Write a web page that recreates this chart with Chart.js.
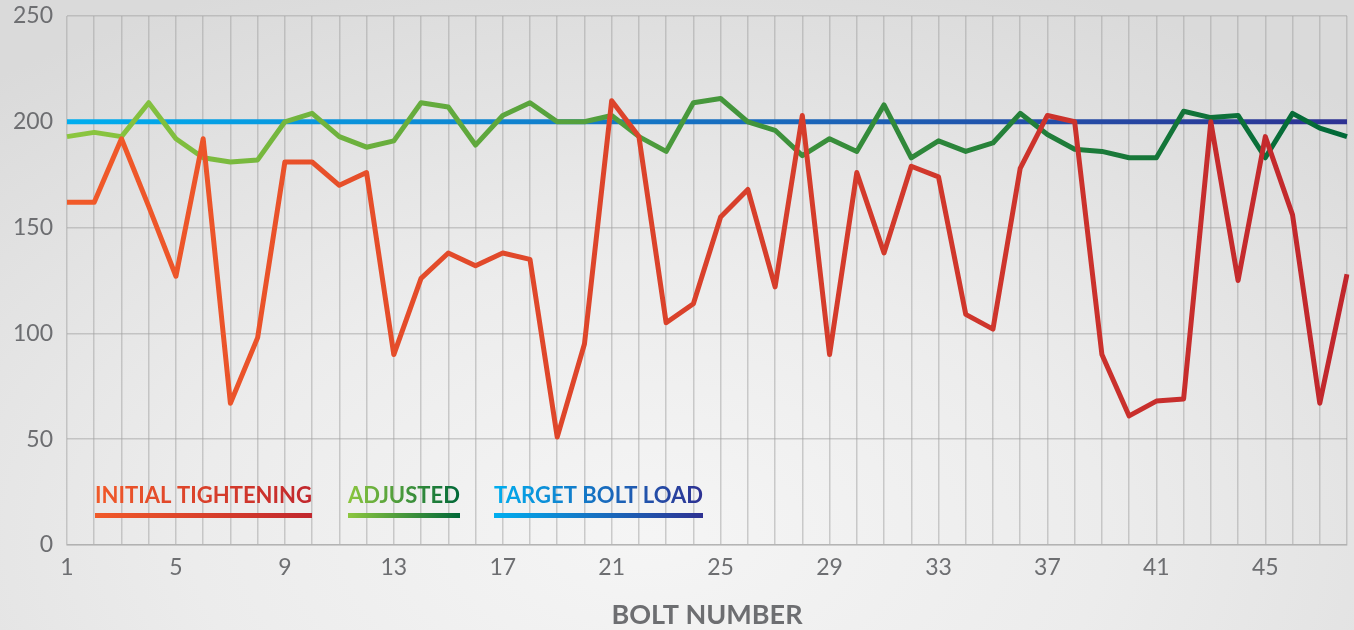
<!DOCTYPE html>
<html>
<head>
<meta charset="utf-8">
<script src="https://cdn.jsdelivr.net/npm/chart.js@4"></script>
<style>
  html, body { margin: 0; padding: 0; }
  body {
    width: 1354px; height: 630px; overflow: hidden;
    background: radial-gradient(ellipse 75% 95% at 48% 85%, #f5f5f5 0%, #ececec 45%, #dadada 100%);
  }
  #wrap { position: relative; width: 1354px; height: 630px; }
</style>
</head>
<body>
<div id="wrap"><canvas id="boltChart"></canvas></div>
<script>
// Bolt numbers
const bolts = [1,2,3,4,5,6,7,8,9,10,11,12,13,14,15,16,17,18,19,20,21,22,23,24,
  25,26,27,28,29,30,31,32,33,34,35,36,37,38,39,40,41,42,43,44,45,46,47,48];

// Load after first pass
const initialTightening = [162,162,192,160,127,192,67,98,181,181,170,176,90,126,138,132,
  138,135,51,95,210,193,105,114,155,168,122,203,90,176,138,179,
  174,109,102,178,203,200,90,61,68,69,200,125,193,156,67,128];

// Load after adjustment
const adjusted = [193,195,193,209,192,183,181,182,200,204,193,188,191,209,207,189,
  203,209,200,200,203,193,186,209,211,200,196,184,192,186,208,183,
  191,186,190,204,194,187,186,183,183,205,202,203,183,204,197,193];

// Target bolt load
const targetLoad = [200,200,200,200,200,200,200,200,200,200,200,200,200,200,200,200,
  200,200,200,200,200,200,200,200,200,200,200,200,200,200,200,200,
  200,200,200,200,200,200,200,200,200,200,200,200,200,200,200,200];

const yTicks = [0, 50, 100, 150, 200, 250];

const colors = {
  initial: ["#f15a29", "#c1272d"],
  adjusted: ["#8cc63f", "#006838"],
  target: ["#00aeef", "#2e3192"],
  text: "#6d6e71",
  grid: "rgba(160,160,160,0.5)"
};

function lineGradient(ctx, pair) {
  const chart = ctx.chart;
  const area = chart.chartArea;
  if (!area) return pair[0];
  const g = chart.ctx.createLinearGradient(area.left, 0, area.right, 0);
  g.addColorStop(0, pair[0]);
  g.addColorStop(1, pair[1]);
  return g;
}

// legend drawn inside the plot, text + bar both gradient
const legendItems = [
  { text: "INITIAL TIGHTENING", from: 28, to: 245, pair: colors.initial },
  { text: "ADJUSTED", from: 281, to: 393, pair: colors.adjusted },
  { text: "TARGET BOLT LOAD", from: 427, to: 636, pair: colors.target }
];

const insideLegend = {
  id: "insideLegend",
  afterDraw(chart) {
    const ctx = chart.ctx;
    const left = chart.chartArea.left;
    const textY = 503, barY = 515.5;
    ctx.save();
    legendItems.forEach(it => {
      const x1 = left + it.from, x2 = left + it.to;
      const g = ctx.createLinearGradient(x1, 0, x2, 0);
      g.addColorStop(0, it.pair[0]);
      g.addColorStop(1, it.pair[1]);
      ctx.font = "bold 22px Lato";
      ctx.letterSpacing = "0px";
      const w = ctx.measureText(it.text).width;
      const sp = (x2 - x1 - w) / (it.text.length - 1);
      ctx.letterSpacing = sp.toFixed(2) + "px";
      ctx.fillStyle = g;
      ctx.textAlign = "left";
      ctx.textBaseline = "alphabetic";
      ctx.fillText(it.text, x1, textY);
      ctx.fillRect(x1, barY - 2.5, x2 - x1, 5);
    });
    ctx.restore();
  }
};

const ctx = document.getElementById("boltChart").getContext("2d");
new Chart(ctx, {
  type: "line",
  data: {
    labels: bolts,
    datasets: [
      {
        label: "Initial tightening",
        data: initialTightening,
        borderColor: c => lineGradient(c, colors.initial),
        borderWidth: 5,
        borderJoinStyle: "round",
        pointRadius: 0,
        tension: 0,
        order: 1
      },
      {
        label: "Adjusted",
        data: adjusted,
        borderColor: c => lineGradient(c, colors.adjusted),
        borderWidth: 5,
        borderJoinStyle: "round",
        pointRadius: 0,
        tension: 0,
        order: 2
      },
      {
        label: "Target bolt load",
        data: targetLoad,
        borderColor: c => lineGradient(c, colors.target),
        borderWidth: 5,
        pointRadius: 0,
        tension: 0,
        order: 3
      }
    ]
  },
  options: {
    responsive: true,
    maintainAspectRatio: false,
    animation: false,
    layout: { padding: { top: 16, right: 7, left: 0, bottom: 0 } },
    plugins: {
      legend: { display: false },
      tooltip: { enabled: false }
    },
    scales: {
      x: {
        grid: { color: colors.grid, lineWidth: 1.5, drawTicks: false },
        border: { color: colors.grid, width: 1.5 },
        ticks: {
          color: colors.text,
          font: { family: "Lato", size: 23 },
          padding: 9,
          autoSkip: false,
          maxRotation: 0,
          callback: (v, i) => (i % 4 === 0 ? String(bolts[i]) : "")
        },
        title: {
          display: true,
          text: "BOLT NUMBER",
          color: colors.text,
          font: { family: "Lato", size: 27, weight: "bold", lineHeight: 1 },
          padding: { top: 0, bottom: 1 }
        },
        afterFit: s => { s.height = 85; s.paddingLeft = 0; s.paddingRight = 0; }
      },
      y: {
        min: 0,
        max: 250,
        afterBuildTicks: s => { s.ticks = yTicks.map(v => ({ value: v })); },
        grid: { color: colors.grid, lineWidth: 1.5, drawTicks: false },
        border: { display: false },
        ticks: {
          color: colors.text,
          font: { family: "Lato", size: 23 },
          padding: 14
        },
        afterFit: s => { s.width = 67; s.paddingTop = 0; s.paddingBottom = 0; }
      }
    }
  },
  plugins: [insideLegend]
});
</script>
</body>
</html>
